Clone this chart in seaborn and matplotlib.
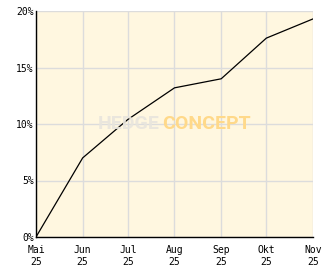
import numpy as np
import pandas as pd
import matplotlib
matplotlib.use("Agg")
import matplotlib.pyplot as plt
from matplotlib.ticker import MultipleLocator, FuncFormatter
import seaborn as sns

# Data
dates = ["2025-05-01", "2025-06-01", "2025-07-01", "2025-08-01",
         "2025-09-01", "2025-10-01", "2025-11-01"]
values = [0.0, 7.0, 10.4, 13.2, 14.0, 17.6, 19.3]
tick_labels = ["Mai\n25", "Jun\n25", "Jul\n25", "Aug\n25", "Sep\n25", "Okt\n25", "Nov\n25"]

df = pd.DataFrame({"date": pd.to_datetime(dates), "value": values})

sns.set_style("white")
plt.rcParams["font.family"] = ["DejaVu Sans Mono"]

fig = plt.figure(figsize=(3.32, 2.69), dpi=100)
fig.patch.set_facecolor("white")
ax = fig.add_axes([36/332, 1 - 237/269, (313-36)/332, (237-11)/269])
ax.set_facecolor("#FFF7E0")

sns.lineplot(data=df, x="date", y="value", ax=ax, color="black", linewidth=0.9, zorder=3)

ax.set_xlim(df["date"].iloc[0], df["date"].iloc[-1])
ax.set_ylim(0, 20)

ax.set_xticks(df["date"])
ax.set_xticklabels(tick_labels)
ax.yaxis.set_major_locator(MultipleLocator(5))
ax.yaxis.set_minor_locator(MultipleLocator(1))
ax.yaxis.set_major_formatter(FuncFormatter(lambda v, p: f"{int(v)}%"))

ax.grid(True, which="major", color="#DCDCDC", linewidth=1.0, zorder=0)
ax.set_axisbelow(True)

for s in ["top", "right"]:
    ax.spines[s].set_visible(False)
for s in ["left", "bottom"]:
    ax.spines[s].set_color("black")
    ax.spines[s].set_linewidth(1.0)

ax.tick_params(axis="both", which="both", direction="in", length=3, width=1,
               color="black", labelsize=7, labelcolor="black", pad=1.5)
ax.tick_params(axis="x", pad=6)
ax.tick_params(axis="y", which="minor", length=3)
ax.set_xlabel("")
ax.set_ylabel("")

# Watermark
x_split = (161 - 36) / 277
ax.text(x_split - 0.005, 0.50, "HEDGE", transform=ax.transAxes, ha="right", va="center",
        fontsize=14, fontweight="bold", family="Roboto",
        color="#E8E5DD", alpha=0.9, zorder=4)
ax.text(x_split + 0.005, 0.50, "CONCEPT", transform=ax.transAxes, ha="left", va="center",
        fontsize=14, fontweight="bold", family="Roboto",
        color="#FFD98A", alpha=1.0, zorder=2)

fig.savefig("out.png", dpi=100)
